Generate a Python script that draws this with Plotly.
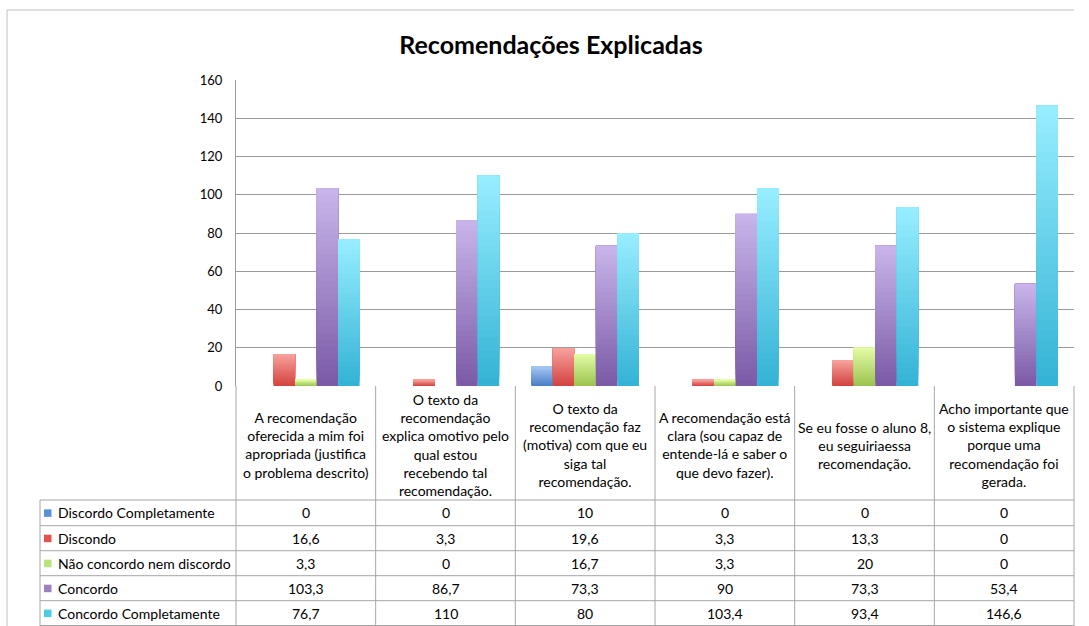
import plotly.graph_objects as go

# ---------------- data ----------------
categories = [
    "A recomendação oferecida a mim foi apropriada (justifica o problema descrito)",
    "O texto da recomendação explica omotivo pelo qual estou recebendo tal recomendação.",
    "O texto da recomendação faz (motiva) com que eu siga tal recomendação.",
    "A recomendação está clara (sou capaz de entende-lá e saber o que devo fazer).",
    "Se eu fosse o aluno 8, eu seguiriaessa recomendação.",
    "Acho importante que o sistema explique porque uma recomendação foi gerada.",
]
category_labels = [
    "A recomendação<br>oferecida a mim foi<br>apropriada (justifica<br>o problema descrito)",
    "O texto da<br>recomendação<br>explica omotivo pelo<br>qual estou<br>recebendo tal<br>recomendação.",
    "O texto da<br>recomendação faz<br>(motiva) com que eu<br>siga tal<br>recomendação.",
    "A recomendação está<br>clara (sou capaz de<br>entende-lá e saber o<br>que devo fazer).",
    "Se eu fosse o aluno 8,<br>eu seguiriaessa<br>recomendação.",
    "Acho importante que<br>o sistema explique<br>porque uma<br>recomendação foi<br>gerada.",
]
series_names = [
    "Discordo Completamente",
    "Discondo",
    "Não concordo nem discordo",
    "Concordo",
    "Concordo Completamente",
]
discordo_completamente = [0, 0, 10, 0, 0, 0]
discondo = [16.6, 3.3, 19.6, 3.3, 13.3, 0]
nao_concordo_nem_discordo = [3.3, 0, 16.7, 3.3, 20, 0]
concordo = [103.3, 86.7, 73.3, 90, 73.3, 53.4]
concordo_completamente = [76.7, 110, 80, 103.4, 93.4, 146.6]
series_values = [discordo_completamente, discondo, nao_concordo_nem_discordo,
                 concordo, concordo_completamente]
y_ticks = [0, 20, 40, 60, 80, 100, 120, 140, 160]

# ---------------- style ----------------
grad_bottom = ["#4A7DC4", "#D2433E", "#9CC350", "#7A59A6", "#33B2D5"]
grad_top = ["#A3C6F3", "#F8A19D", "#E3FCA5", "#C9B6EB", "#98EEFF"]
key_colors = ["#5B8FD8", "#E0534F", "#B9E27A", "#9C80C2", "#4FC9E8"]
FONT = "Lato, 'Open Sans', sans-serif"
W, H = 1089, 626
L, R, T, B = 236, 1074, 80, 386
grid_col = "#9A9A9A"
line_col = "#A6A6A6"


def hex2rgb(h):
    h = h.lstrip("#")
    return tuple(int(h[i:i + 2], 16) for i in (0, 2, 4))


def mix(c1, c2, t):
    a, b = hex2rgb(c1), hex2rgb(c2)
    return "rgb(%d,%d,%d)" % tuple(round(a[i] + (b[i] - a[i]) * t) for i in range(3))


def px(xp):
    return (xp - L) / (R - L)


def py(yp):
    return (B - yp) / (B - T)


fig = go.Figure()
N = 30
for s, (name, vals) in enumerate(zip(series_names, series_values)):
    for k in range(N):
        # each slice runs from its start up to the bar top; later slices cover
        # the upper part, producing a vertical gradient without seams
        fig.add_trace(go.Bar(
            x=categories,
            y=[v * (N - k) / N for v in vals],
            base=[v * k / N for v in vals],
            offsetgroup=str(s),
            name=name,
            showlegend=False,
            marker=dict(color=mix(grad_bottom[s], grad_top[s], (k + 0.5) / N),
                        line=dict(width=0)),
            hoverinfo="skip",
        ))

shapes = []
annotations = []

# outer chart border (top and left)
shapes.append(dict(type="line", xref="paper", yref="paper",
                   x0=px(7), x1=px(1074), y0=py(10), y1=py(10),
                   line=dict(color="#C0C0C0", width=1)))
shapes.append(dict(type="line", xref="paper", yref="paper",
                   x0=px(7), x1=px(7), y0=py(10), y1=py(640),
                   line=dict(color="#C0C0C0", width=1)))

# table grid
row_edges = [500, 525.7, 550.7, 575.7, 600.7, 625.5]
ncat = len(categories)
col_w = (R - L) / ncat
for i in range(ncat + 1):
    xp = L + i * col_w
    shapes.append(dict(type="line", xref="paper", yref="paper",
                       x0=px(xp), x1=px(xp), y0=py(B), y1=py(640),
                       line=dict(color=line_col, width=1)))
shapes.append(dict(type="line", xref="paper", yref="paper",
                   x0=px(40), x1=px(40), y0=py(500), y1=py(640),
                   line=dict(color=line_col, width=1)))
for ye in row_edges:
    shapes.append(dict(type="line", xref="paper", yref="paper",
                       x0=px(40), x1=px(R), y0=py(ye), y1=py(ye),
                       line=dict(color=line_col, width=1)))

# header labels
for i, lab in enumerate(category_labels):
    annotations.append(dict(x=px(L + (i + 0.5) * col_w), y=py(445),
                            xref="paper", yref="paper", text=lab,
                            showarrow=False, align="center",
                            xanchor="center", yanchor="middle",
                            font=dict(family=FONT, size=14, color="#000")))

# rows
for r, (name, vals) in enumerate(zip(series_names, series_values)):
    yc = (row_edges[r] + row_edges[r + 1]) / 2
    shapes.append(dict(type="rect", xref="paper", yref="paper",
                       x0=px(44), x1=px(51.5), y0=py(yc - 3.5), y1=py(yc + 4),
                       fillcolor=key_colors[r], line=dict(width=0)))
    annotations.append(dict(x=px(56), y=py(yc), xref="paper", yref="paper",
                            text=name, showarrow=False, xanchor="left",
                            yanchor="middle",
                            font=dict(family=FONT, size=14, color="#000")))
    for i, v in enumerate(vals):
        annotations.append(dict(x=px(L + (i + 0.5) * col_w), y=py(yc),
                                xref="paper", yref="paper",
                                text=("%g" % v).replace(".", ","),
                                showarrow=False, xanchor="center",
                                yanchor="middle",
                                font=dict(family=FONT, size=14, color="#000")))

fig.update_layout(
    width=W, height=H,
    margin=dict(l=L, r=W - R, t=T, b=H - B),
    paper_bgcolor="white", plot_bgcolor="white",
    barmode="group", bargap=0.23, bargroupgap=0,
    title=dict(text="<b>Recomendações Explicadas</b>", x=551 / W, xanchor="center",
               y=1 - 45 / H, yanchor="middle",
               font=dict(family=FONT, size=25, color="#000")),
    xaxis=dict(showticklabels=False, showgrid=False, zeroline=False,
               showline=False, ticks=""),
    yaxis=dict(range=[0, 160], tickvals=y_ticks, showgrid=True,
               gridcolor=grid_col, gridwidth=1, zeroline=False,
               showline=True, linecolor=grid_col, linewidth=1,
               ticks="", ticklabelstandoff=10,
               tickfont=dict(family=FONT, size=13, color="#000")),
    shapes=shapes, annotations=annotations,
    showlegend=False,
)

fig.write_html(
    "out.html",
    config={"displayModeBar": False},
    post_script="document.body.style.margin='0';document.body.style.overflow='hidden';",
)
